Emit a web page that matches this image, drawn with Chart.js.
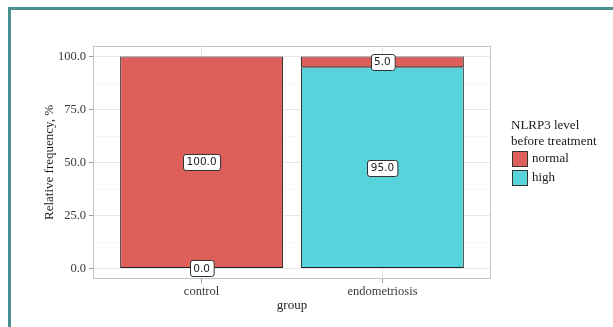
<!DOCTYPE html>
<html>
<head>
<meta charset="utf-8">
<script src="https://cdn.jsdelivr.net/npm/chart.js@4.4.1/dist/chart.umd.min.js"></script>
<style>
  html, body { margin: 0; padding: 0; background: #fff; }
  #wrap { width: 613px; height: 327px; }
</style>
</head>
<body>
<div id="wrap"><canvas id="chart" width="613" height="327"></canvas></div>
<script>
// data
const categories = ['control', 'endometriosis'];
const normalPct = [100.0, 5.0];
const highPct = [0.0, 95.0];
const yMajor = [0, 25, 50, 75, 100];
const yMinor = [12.5, 37.5, 62.5, 87.5];
const legendTitle = ['NLRP3 level', 'before treatment'];
const legendNames = ['normal', 'high'];

const red = '#de5f59';
const cyan = '#57d3db';
const serif = '"Liberation Serif", "DejaVu Serif", serif';

// frame, panel, minor grid
const panelPlugin = {
  id: 'panel',
  beforeDraw(chart) {
    const ctx = chart.ctx;
    ctx.save();
    ctx.fillStyle = '#fff';
    ctx.fillRect(0, 0, chart.width, chart.height);
    // teal frame
    ctx.fillStyle = '#4a9090';
    ctx.fillRect(8, 7, chart.width - 8, 3);
    ctx.fillRect(8, 7, 3, chart.height - 7);
    ctx.restore();
  },
  beforeDatasetsDraw(chart) {
    const ctx = chart.ctx;
    const a = chart.chartArea;
    const y = chart.scales.y;
    ctx.save();
    ctx.strokeStyle = '#f1f1f1';
    ctx.lineWidth = 0.6;
    yMinor.forEach(v => {
      const py = Math.round(y.getPixelForValue(v)) + 0.5;
      ctx.beginPath();
      ctx.moveTo(a.left, py);
      ctx.lineTo(a.right, py);
      ctx.stroke();
    });
    ctx.strokeStyle = '#c4c4c4';
    ctx.lineWidth = 1;
    ctx.strokeRect(a.left + 0.5, a.top + 0.5, a.right - a.left - 1, a.bottom - a.top - 1);
    ctx.restore();
  }
};

// boxed value labels + axis titles + legend
const labelPlugin = {
  id: 'labels',
  afterDatasetsDraw(chart) {
    const ctx = chart.ctx;
    ctx.save();
    ctx.font = '10.5px "DejaVu Sans", sans-serif';
    ctx.textAlign = 'center';
    ctx.textBaseline = 'middle';
    chart.data.datasets.forEach((ds, di) => {
      const meta = chart.getDatasetMeta(di);
      meta.data.forEach((el, i) => {
        const txt = ds.data[i].y.toFixed(1);
        const cx = el.x;
        const cy = (el.y + el.base) / 2;
        const w = ctx.measureText(txt).width + 7;
        const h = 16;
        ctx.beginPath();
        ctx.roundRect(Math.round(cx - w / 2) + 0.5, Math.round(cy - h / 2) + 0.5, w, h, 2.5);
        ctx.fillStyle = '#fff';
        ctx.fill();
        ctx.strokeStyle = '#333';
        ctx.lineWidth = 1;
        ctx.stroke();
        ctx.fillStyle = '#222';
        ctx.fillText(txt, cx, cy + 0.5);
      });
    });
    ctx.restore();
  },
  afterDraw(chart) {
    const ctx = chart.ctx;
    const a = chart.chartArea;
    ctx.save();
    ctx.fillStyle = '#1a1a1a';
    ctx.font = '13px ' + serif;
    ctx.textAlign = 'center';
    ctx.textBaseline = 'middle';
    ctx.fillText('group', (a.left + a.right) / 2, 306);
    ctx.translate(50, (a.top + a.bottom) / 2);
    ctx.rotate(-Math.PI / 2);
    ctx.fillText('Relative frequency, %', 0, 0);
    ctx.restore();

    // legend
    ctx.save();
    ctx.font = '13px ' + serif;
    ctx.fillStyle = '#1a1a1a';
    ctx.textAlign = 'left';
    ctx.textBaseline = 'middle';
    legendTitle.forEach((t, i) => ctx.fillText(t, 511, 126 + i * 16));
    const cols = [red, cyan];
    legendNames.forEach((n, i) => {
      const top = 151 + i * 19;
      ctx.fillStyle = cols[i];
      ctx.fillRect(512, top, 16, 16);
      ctx.strokeStyle = '#333';
      ctx.lineWidth = 1;
      ctx.strokeRect(512.5, top + 0.5, 15, 15);
      ctx.fillStyle = '#1a1a1a';
      ctx.fillText(n, 532, top + 8);
    });
    ctx.restore();
  }
};

const toPoints = arr => arr.map((v, i) => ({ x: i, y: v }));

new Chart(document.getElementById('chart'), {
  type: 'bar',
  data: {
    datasets: [
      { label: 'high', data: toPoints(highPct), backgroundColor: cyan },
      { label: 'normal', data: toPoints(normalPct), backgroundColor: red }
    ]
  },
  options: {
    responsive: false,
    animation: false,
    devicePixelRatio: 1,
    layout: { padding: { left: 0, top: 46, right: 122, bottom: 0 } },
    datasets: {
      bar: {
        borderColor: '#222',
        borderWidth: 1,
        borderSkipped: false,
        barPercentage: 0.9,
        categoryPercentage: 1
      }
    },
    plugins: {
      legend: { display: false },
      tooltip: { enabled: false }
    },
    scales: {
      x: {
        type: 'linear',
        stacked: true,
        offset: false,
        min: -0.6,
        max: categories.length - 0.4,
        afterBuildTicks: s => { s.ticks = categories.map((c, i) => ({ value: i })); },
        afterFit: s => { s.height = 48; },
        ticks: {
          callback: v => categories[v],
          font: { family: serif, size: 12.5 },
          color: '#3a3a3a',
          padding: 1,
          maxRotation: 0
        },
        grid: { color: '#e6e6e6', tickColor: '#999', tickLength: 4, offset: false },
        border: { display: false }
      },
      y: {
        stacked: true,
        min: -5,
        max: 105,
        afterBuildTicks: s => { s.ticks = yMajor.map(v => ({ value: v })); },
        afterFit: s => { s.width = 93; },
        ticks: {
          callback: v => v.toFixed(1),
          font: { family: serif, size: 12.5 },
          color: '#3a3a3a',
          padding: 3
        },
        grid: { color: '#e6e6e6', tickColor: '#999', tickLength: 4 },
        border: { display: false }
      }
    }
  },
  plugins: [panelPlugin, labelPlugin]
});
</script>
</body>
</html>
